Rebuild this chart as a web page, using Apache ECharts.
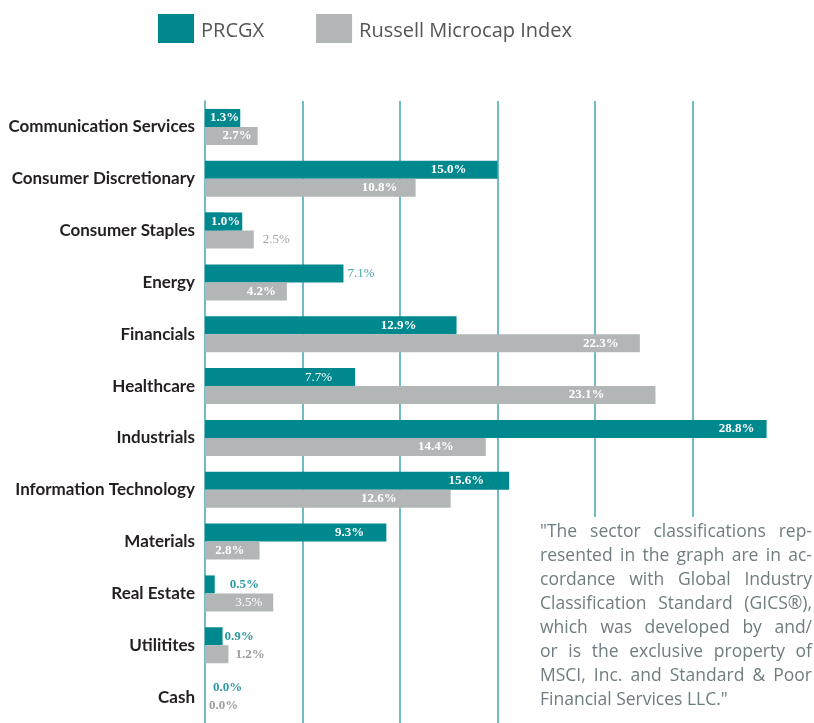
<!DOCTYPE html>
<html>
<head>
<meta charset="utf-8">
<script src="https://cdn.jsdelivr.net/npm/echarts@6/dist/echarts.min.js"></script>
<style>
  html, body { margin: 0; padding: 0; background: #fff; }
  #chart { width: 814px; height: 723px; }
</style>
</head>
<body>
<div id="chart"></div>
<script>
// sector weights, %
const categories = [
  'Communication Services', 'Consumer Discretionary', 'Consumer Staples', 'Energy',
  'Financials', 'Healthcare', 'Industrials', 'Information Technology',
  'Materials', 'Real Estate', 'Utilitites', 'Cash'
];
const prcgx = [1.3, 15.0, 1.0, 7.1, 12.9, 7.7, 28.8, 15.6, 9.3, 0.5, 0.9, 0.0];
const russell = [2.7, 10.8, 2.5, 4.2, 22.3, 23.1, 14.4, 12.6, 2.8, 3.5, 1.2, 0.0];
const seriesNames = ['PRCGX', 'Russell Microcap Index'];
const noteLines = [
  '"The sector classifications rep-',
  'resented in the graph are in ac-',
  'cordance with Global Industry',
  'Classification Standard (GICS®),',
  'which was developed by and/',
  'or is the exclusive property of',
  'MSCI, Inc. and Standard & Poor',
  'Financial Services LLC."'
];

const TEAL = '#00888f';
const GREY = '#b2b6b6';
const GRIDC = '#6fbcc4';

// per-bar label tweaks (the original placed each label by hand)
const tealBox = { position: 'insideLeft', distance: 0, backgroundColor: TEAL, lineHeight: 14 };
const prcgxLabel = [
  Object.assign({ padding: [2, 1, 2, 5] }, tealBox),
  { distance: 31 },
  Object.assign({ padding: [2, 2, 2, 6] }, tealBox),
  { position: 'right', distance: 4, color: '#45a6ae', fontWeight: 'normal' },
  { distance: 40 },
  { distance: 23, fontWeight: 'normal' },
  { distance: 12 },
  { distance: 25 },
  { distance: 22 },
  { position: 'right', distance: 15, color: '#2b99a2' },
  { position: 'right', distance: 2, color: '#2b99a2' },
  { position: 'right', distance: 8, color: '#2b99a2' }
];
const russellLabel = [
  { distance: 6 },
  { distance: 18 },
  { position: 'right', distance: 9, color: '#a3a3a3', fontWeight: 'normal' },
  { distance: 11 },
  { distance: 21 },
  { distance: 51 },
  { distance: 32 },
  { distance: 54 },
  { distance: 15 },
  { distance: 11, fontWeight: 'normal' },
  { position: 'right', distance: 7, color: '#9c9c9c' },
  { position: 'right', distance: 4, color: '#9c9c9c' }
];

function buildData(values, labels) {
  return values.map((v, i) => ({ value: v, label: labels[i] }));
}

// justified note text, measured with a canvas
const NOTE_FONT = '17.5px "Open Sans"';
const NOTE_LEFT = 540, NOTE_RIGHT = 812, NOTE_TOP = 523, NOTE_LH = 24;
const measureCtx = document.createElement('canvas').getContext('2d');
measureCtx.font = NOTE_FONT;
const noteWords = [];
noteLines.forEach((line, li) => {
  const words = line.split(' ');
  const widths = words.map(w => measureCtx.measureText(w).width);
  const total = widths.reduce((a, b) => a + b, 0);
  const last = li === noteLines.length - 1;
  const gap = (last || words.length < 2) ? measureCtx.measureText(' ').width
    : (NOTE_RIGHT - NOTE_LEFT - total) / (words.length - 1);
  let x = NOTE_LEFT;
  words.forEach((w, wi) => {
    noteWords.push({
      type: 'text',
      z: 101,
      x: x,
      y: NOTE_TOP + li * NOTE_LH,
      style: { text: w, font: NOTE_FONT, fill: '#6e7d7f', verticalAlign: 'top' }
    });
    x += widths[wi] + gap;
  });
});

const chart = echarts.init(document.getElementById('chart'));

chart.setOption({
  animation: false,
  legend: {
    data: seriesNames,
    left: 158,
    top: 14,
    padding: 0,
    icon: 'rect',
    itemWidth: 36,
    itemHeight: 29,
    itemGap: 52,
    formatter: name => '{t|' + name + '}',
    textStyle: {
      rich: {
        t: { fontFamily: 'Open Sans', fontSize: 20, color: '#555', padding: [6, 0, 0, 2] }
      }
    }
  },
  grid: { left: 205, right: 24, top: 101, bottom: -8 },
  xAxis: {
    type: 'value',
    min: 0,
    max: 30,
    interval: 5,
    axisLabel: { show: false },
    axisLine: { show: false },
    axisTick: { show: false },
    splitLine: {
      lineStyle: { color: [GRIDC, GRIDC, GRIDC, GRIDC, GRIDC, GRIDC, 'rgba(0,0,0,0)'], width: 2 }
    }
  },
  yAxis: {
    type: 'category',
    data: categories,
    inverse: true,
    axisTick: { show: false },
    axisLine: { lineStyle: { color: GRIDC, width: 2 } },
    axisLabel: {
      margin: 10,
      fontFamily: 'Lato',
      fontWeight: 'bold',
      fontSize: 17,
      color: '#231f20'
    }
  },
  series: [
    {
      name: seriesNames[0],
      type: 'bar',
      barWidth: 18,
      barGap: '0%',
      itemStyle: { color: TEAL },
      label: {
        show: true,
        position: 'insideRight',
        color: '#fff',
        fontFamily: 'Liberation Serif',
        fontWeight: 'bold',
        fontSize: 13,
        formatter: p => p.value.toFixed(1) + '%'
      },
      data: buildData(prcgx, prcgxLabel)
    },
    {
      name: seriesNames[1],
      type: 'bar',
      barWidth: 18,
      itemStyle: { color: GREY },
      label: {
        show: true,
        position: 'insideRight',
        color: '#fff',
        fontFamily: 'Liberation Serif',
        fontWeight: 'bold',
        fontSize: 13,
        formatter: p => p.value.toFixed(1) + '%'
      },
      data: buildData(russell, russellLabel)
    }
  ],
  graphic: [
    {
      type: 'rect',
      z: 100,
      shape: { x: 532, y: 517, width: 282, height: 206 },
      style: { fill: '#fff' }
    }
  ].concat(noteWords)
});
</script>
</body>
</html>
